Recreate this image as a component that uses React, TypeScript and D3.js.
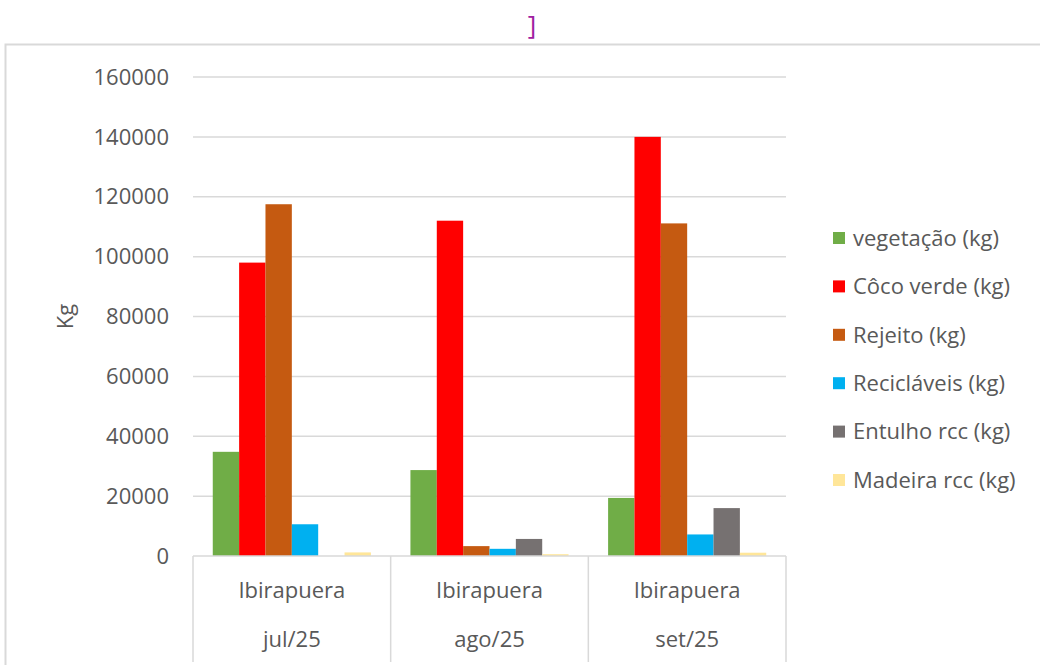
import React from "react";
import * as d3 from "d3";

const categories = ["jul/25", "ago/25", "set/25"];
const locations = ["Ibirapuera", "Ibirapuera", "Ibirapuera"];
const seriesNames = [
  "vegetação (kg)",
  "Côco verde (kg)",
  "Rejeito (kg)",
  "Recicláveis (kg)",
  "Entulho rcc (kg)",
  "Madeira rcc (kg)",
];
const seriesColors = ["#70ad47", "#ff0000", "#c55a11", "#00b0f0", "#767171", "#ffe699"];
const vegetacao = [34800, 28700, 19400];
const cocoVerde = [98000, 112000, 140000];
const rejeito = [117500, 3300, 111100];
const reciclaveis = [10600, 2400, 7200];
const entulho = [0, 5700, 16000];
const madeira = [1200, 600, 1100];
const seriesValues = [vegetacao, cocoVerde, rejeito, reciclaveis, entulho, madeira];
const yTicks = [0, 20000, 40000, 60000, 80000, 100000, 120000, 140000, 160000];

const FONT = "'Open Sans', 'Liberation Sans', sans-serif";
const TEXT = "#595959";
const GRID = "#d9d9d9";
const FS = 22;

export default function App() {
  const left = 193;
  const right = 786;
  const top = 77;
  const bottom = 556;

  const y = d3.scaleLinear().domain([0, 160000]).range([bottom, top]);
  const x0 = d3.scaleBand<string>().domain(categories).range([left, right]).paddingInner(0).paddingOuter(0);
  const bw = x0.bandwidth();
  const gap = bw / (seriesNames.length + 1.5);
  const x1 = d3
    .scaleBand<number>()
    .domain(d3.range(seriesNames.length))
    .range([gap * 0.75, bw - gap * 0.75])
    .padding(0);

  const boundaries = [...categories.map((c) => x0(c) as number), right];

  return (
    <svg
      width={1040}
      height={665}
      style={{ position: "absolute", left: 0, top: 0, background: "#fff" }}
      fontFamily={FONT}
    >
      <rect x={0} y={0} width={1040} height={665} fill="#fff" />
      <text x={532} y={34} fill="#a020a0" fontSize={26} textAnchor="middle">
        ]
      </text>
      <path d={`M5.5,665 V44.5 H1040`} fill="none" stroke={GRID} strokeWidth={2} />

      {yTicks.map((t) => (
        <g key={t}>
          {t > 0 && (
            <line x1={left} x2={right} y1={y(t)} y2={y(t)} stroke={GRID} strokeWidth={1.5} />
          )}
          <text x={169} y={y(t)} dy="0.35em" textAnchor="end" fontSize={FS} fill={TEXT}>
            {t}
          </text>
        </g>
      ))}

      <text
        transform={`translate(73,${(top + bottom) / 2}) rotate(-90)`}
        textAnchor="middle"
        fontSize={FS}
        fill={TEXT}
      >
        Kg
      </text>

      {categories.map((c, ci) => (
        <g key={c}>
          {seriesValues.map((vals, si) => {
            const v = vals[ci];
            if (v <= 0) return null;
            const bx = (x0(c) as number) + (x1(si) as number);
            return (
              <rect
                key={si}
                x={bx}
                y={y(v)}
                width={x1.bandwidth()}
                height={bottom - y(v)}
                fill={seriesColors[si]}
              />
            );
          })}
        </g>
      ))}

      <line x1={left} x2={right} y1={bottom} y2={bottom} stroke={GRID} strokeWidth={1.5} />
      {boundaries.map((b, i) => (
        <line key={i} x1={b} x2={b} y1={bottom} y2={662} stroke={GRID} strokeWidth={1.5} />
      ))}
      {categories.map((c, ci) => {
        const cx = (x0(c) as number) + bw / 2;
        return (
          <g key={c}>
            <text x={cx} y={590} dy="0.35em" textAnchor="middle" fontSize={FS} fill={TEXT}>
              {locations[ci]}
            </text>
            <text x={cx} y={639} dy="0.35em" textAnchor="middle" fontSize={FS} fill={TEXT}>
              {c}
            </text>
          </g>
        );
      })}

      {seriesNames.map((n, i) => {
        const ly = 238 + i * 48.4;
        return (
          <g key={n}>
            <rect x={833} y={ly - 6} width={12} height={12} fill={seriesColors[i]} />
            <text x={853} y={ly} dy="0.35em" fontSize={FS} fill={TEXT}>
              {n}
            </text>
          </g>
        );
      })}
    </svg>
  );
}
